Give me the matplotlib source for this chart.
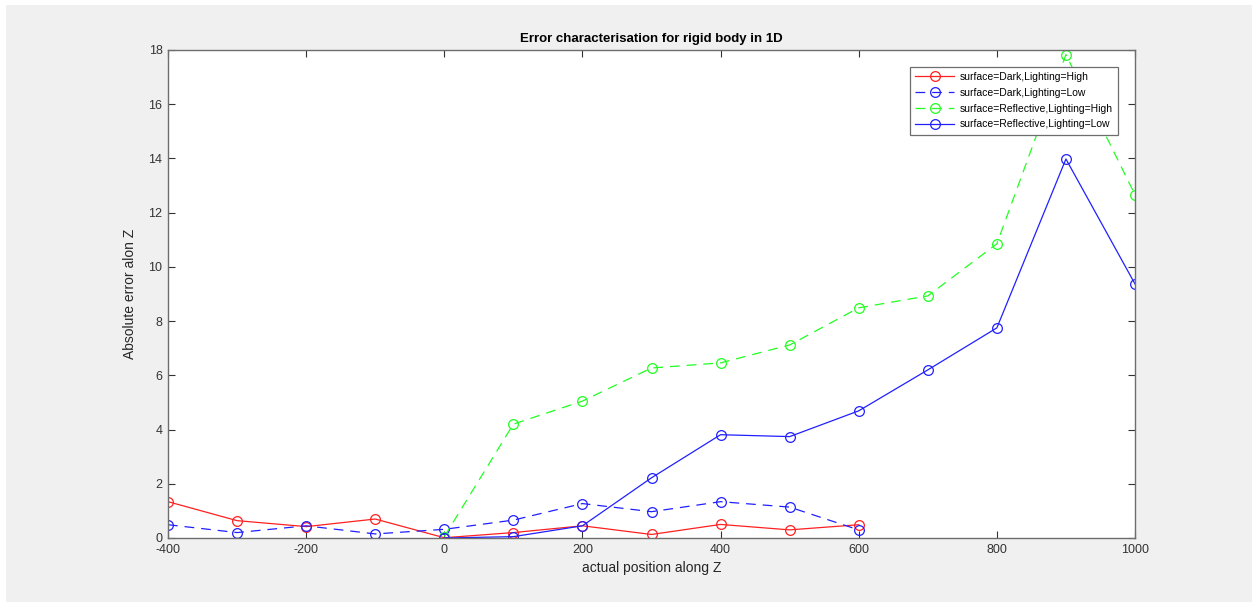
import matplotlib
matplotlib.use("Agg")
import matplotlib.pyplot as plt
from matplotlib.patches import Rectangle

plt.rcParams['font.family'] = ['Liberation Sans', 'DejaVu Sans']
plt.rcParams['lines.scale_dashes'] = False
plt.rcParams['axes.unicode_minus'] = False

# positions along Z
pos_dark = [-400, -300, -200, -100, 0, 100, 200, 300, 400, 500, 600]
pos_refl = [0, 100, 200, 300, 400, 500, 600, 700, 800, 900, 1000]

# absolute error for each surface / lighting combination
dark_high = [1.34, 0.64, 0.42, 0.70, 0.01, 0.20, 0.45, 0.13, 0.50, 0.30, 0.49]
dark_low = [0.49, 0.20, 0.45, 0.15, 0.32, 0.66, 1.27, 0.97, 1.34, 1.14, 0.30]
refl_high = [0.05, 4.20, 5.05, 6.27, 6.46, 7.12, 8.49, 8.93, 10.85, 17.83, 12.66]
refl_low = [0.0, 0.05, 0.45, 2.22, 3.81, 3.74, 4.69, 6.20, 7.75, 13.98, 9.37]

xticks = [-400, -200, 0, 200, 400, 600, 800, 1000]
yticks = [0, 2, 4, 6, 8, 10, 12, 14, 16, 18]

fig = plt.figure(figsize=(12.52, 6.02), dpi=100, facecolor='white')
fig.patches.append(Rectangle((6/1252, 0), 1 - 6/1252, 1 - 5/602,
                             transform=fig.transFigure, facecolor='#f0f0f0',
                             edgecolor='none', zorder=-10))
ax = fig.add_axes([168/1252, 1 - 538/602, (1135-168)/1252, (538-50)/602])
ax.set_facecolor('white')

lw = 0.9
ms = 7
dash = (7, 5)
ax.plot(pos_dark, dark_high, '-', color='#ff2020', lw=lw, marker='o', ms=ms,
        mfc='none', mew=lw, label='surface=Dark,Lighting=High')
ax.plot(pos_dark, dark_low, '--', color='#2020ff', lw=lw, marker='o', ms=ms,
        mfc='none', mew=lw, dashes=dash, label='surface=Dark,Lighting=Low')
ax.plot(pos_refl, refl_high, '--', color='#20ff20', lw=lw, marker='o', ms=ms,
        mfc='none', mew=lw, dashes=dash, label='surface=Reflective,Lighting=High')
ax.plot(pos_refl, refl_low, '-', color='#2020ff', lw=lw, marker='o', ms=ms,
        mfc='none', mew=lw, label='surface=Reflective,Lighting=Low')

ax.set_xlim(-400, 1000)
ax.set_ylim(0, 18)
ax.set_xticks(xticks)
ax.set_yticks(yticks)
ax.tick_params(direction='in', length=5, width=0.8, top=True, right=True,
               labelsize=9, colors='#333333', pad=4)
for s in ax.spines.values():
    s.set_color('#6e6e6e')
    s.set_linewidth(1.0)

ax.set_title('Error characterisation for rigid body in 1D', fontsize=9.5,
             fontweight='bold', color='black', pad=6)
ax.set_xlabel('actual position along Z', fontsize=10, color='#262626', labelpad=4)
ax.set_ylabel('Absolute error alon Z', fontsize=10, color='#262626', labelpad=8)

leg = ax.legend(loc='upper right', bbox_to_anchor=(0.9876, 0.976), fontsize=7.5,
                frameon=True, fancybox=False, framealpha=1, edgecolor='#6e6e6e',
                handlelength=3.8, borderpad=0.5, labelspacing=0.55, handletextpad=0.5)
leg.get_frame().set_linewidth(0.9)

fig.savefig('out.png', dpi=100, facecolor=fig.get_facecolor())
